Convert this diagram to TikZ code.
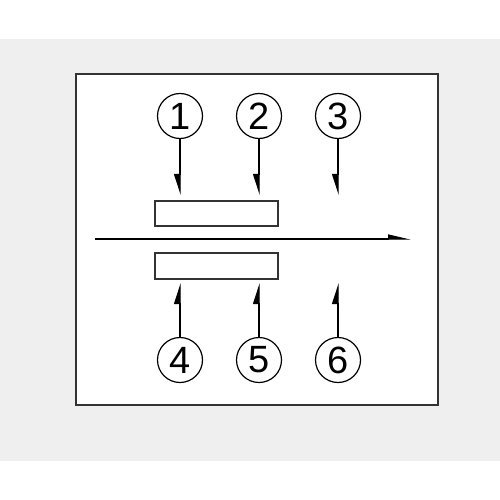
\documentclass[tikz,border=0pt]{standalone}
\usepackage{fontspec}
\setmainfont{Liberation Sans}
\usetikzlibrary{arrows.meta}
\definecolor{bandgray}{HTML}{EFEFEF}
\definecolor{framegray}{HTML}{333333}
\tikzset{
  num/.style={circle, draw=black, line width=1.2pt, minimum size=45pt, inner sep=0pt,
    font=\fontsize{38}{38}\selectfont},
  plate/.style={draw=framegray, line width=1.5pt, fill=white},
  flow/.style={line width=1.3pt, black},
  downarr/.style={flow, -{Triangle[length=19pt, width=12pt, right]}},
  uparr/.style={flow, -{Triangle[length=19pt, width=12pt, left]}},
  rightarr/.style={flow, -{Triangle[length=20pt, width=9pt, left]}}
}
\begin{document}
\begin{tikzpicture}[x=1pt, y=-1pt]
\useasboundingbox (0,0) rectangle (500,500);
\fill[bandgray] (0,39) rectangle (500,461);
\draw[framegray, line width=1.5pt, fill=white] (76,74) rectangle (438,405);
% circled numbers
\node[num] (n1) at (180,116) {1};
\node[num] (n2) at (259,116) {2};
\node[num] (n3) at (338,116) {3};
\node[num] (n4) at (180,360) {4};
\node[num] (n5) at (259,360) {5};
\node[num] (n6) at (338,360) {6};
% plates
\node[plate, minimum width=123pt, minimum height=25pt, inner sep=0pt] (pt) at (216.5,213.5) {};
\node[plate, minimum width=123pt, minimum height=26pt, inner sep=0pt] (pb) at (216.5,266) {};
% end points
\coordinate (e1) at (180,195);
\coordinate (e2) at (259,195);
\coordinate (e3) at (338,195);
\coordinate (e4) at (180,283);
\coordinate (e5) at (259,283);
\coordinate (e6) at (338,283);
\coordinate (hs) at (95,239);
\coordinate (he) at (411,239);
\draw[downarr] (n1.south) -- (e1);
\draw[downarr] (n2.south) -- (e2);
\draw[downarr] (n3.south) -- (e3);
\draw[uparr] (n4.north) -- (e4);
\draw[uparr] (n5.north) -- (e5);
\draw[uparr] (n6.north) -- (e6);
\draw[rightarr] (hs) -- (he);
\end{tikzpicture}
\end{document}
